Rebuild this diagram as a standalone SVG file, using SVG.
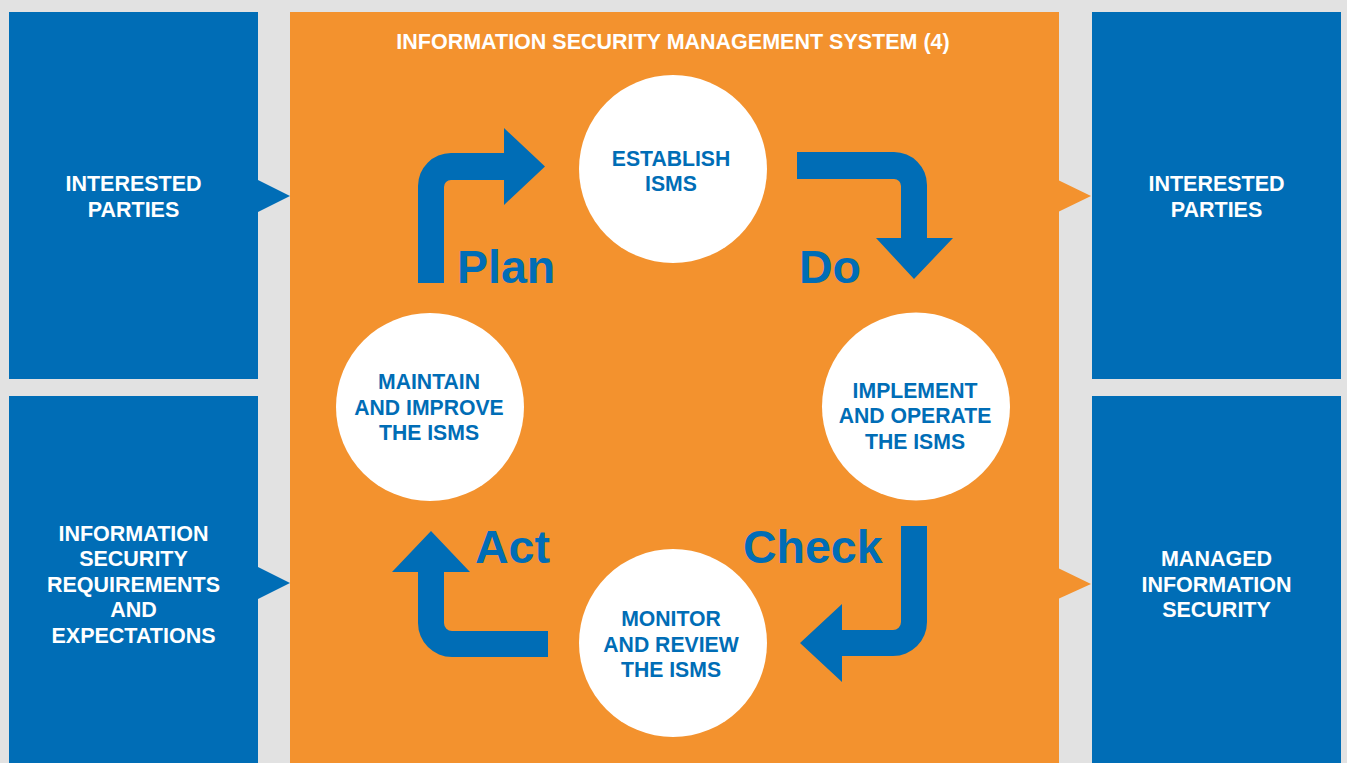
<svg xmlns="http://www.w3.org/2000/svg" width="1347" height="763" viewBox="0 0 1347 763">
  <style>
    .blue { fill: #006db6; }
    .orange { fill: #f3922e; }
    .circ { fill: #ffffff; }
    .t { font-family: "Liberation Sans", Arial, sans-serif; font-weight: bold; text-anchor: middle; }
    .wt { fill: #ffffff; font-size: 21.5px; }
    .bt { fill: #006db6; font-size: 21.2px; }
    .big { font-family: "Liberation Sans", Arial, sans-serif; font-weight: bold; fill: #006db6; font-size: 46.5px; }
  </style>
  <rect x="0" y="0" width="1347" height="763" fill="#e2e2e2"/>

  <g id="isms-panel">
    <rect class="orange" x="290" y="12" width="769" height="751"/>
    <text class="t wt" x="673" y="49" font-size="21.7">INFORMATION SECURITY MANAGEMENT SYSTEM (4)</text>
  </g>

  <g id="in-interested-parties">
    <rect class="blue" x="9" y="12" width="249" height="367"/>
    <text class="t wt" x="133.5" y="191">INTERESTED</text>
    <text class="t wt" x="133.5" y="217">PARTIES</text>
  </g>

  <g id="in-requirements">
    <rect class="blue" x="9" y="396" width="249" height="367"/>
    <text class="t wt" x="133.5" y="541">INFORMATION</text>
    <text class="t wt" x="133.5" y="566">SECURITY</text>
    <text class="t wt" x="133.5" y="592">REQUIREMENTS</text>
    <text class="t wt" x="133.5" y="617">AND</text>
    <text class="t wt" x="133.5" y="643">EXPECTATIONS</text>
  </g>

  <g id="out-interested-parties">
    <rect class="blue" x="1092" y="12" width="249" height="367"/>
    <text class="t wt" x="1216.5" y="191">INTERESTED</text>
    <text class="t wt" x="1216.5" y="217">PARTIES</text>
  </g>

  <g id="out-managed-security">
    <rect class="blue" x="1092" y="396" width="249" height="367"/>
    <text class="t wt" x="1216.5" y="566">MANAGED</text>
    <text class="t wt" x="1216.5" y="592">INFORMATION</text>
    <text class="t wt" x="1216.5" y="617">SECURITY</text>
  </g>

  <g id="establish">
    <circle class="circ" cx="673" cy="169" r="94"/>
    <text class="t bt" x="671" y="166">ESTABLISH</text>
    <text class="t bt" x="671" y="191">ISMS</text>
  </g>

  <g id="implement">
    <circle class="circ" cx="916" cy="406.5" r="94"/>
    <text class="t bt" x="915" y="398">IMPLEMENT</text>
    <text class="t bt" x="915" y="423">AND OPERATE</text>
    <text class="t bt" x="915" y="449">THE ISMS</text>
  </g>

  <g id="monitor">
    <circle class="circ" cx="673" cy="643" r="94"/>
    <text class="t bt" x="671" y="626">MONITOR</text>
    <text class="t bt" x="671" y="652">AND REVIEW</text>
    <text class="t bt" x="671" y="677">THE ISMS</text>
  </g>

  <g id="maintain">
    <circle class="circ" cx="430" cy="407" r="94"/>
    <text class="t bt" x="429" y="389">MAINTAIN</text>
    <text class="t bt" x="429" y="415">AND IMPROVE</text>
    <text class="t bt" x="429" y="440">THE ISMS</text>
  </g>

  <g id="connectors">
    <path class="blue" d="M258,180 L290,196 L258,212 Z"/>
    <path class="blue" d="M258,567 L290,583 L258,599 Z"/>
    <path class="orange" d="M1058,180 L1091,196 L1058,212 Z"/>
    <path class="orange" d="M1058,568 L1091,584 L1058,599 Z"/>
    <path class="blue" d="M418,283 L418,186 A33,33 0 0 1 451,153 L504,153 L504,128 L545,166.5 L504,205 L504,180 L451,180 A7,7 0 0 0 444,187 L444,283 Z"/>
    <path class="blue" d="M797,152 L894,152 A33,33 0 0 1 927,185 L927,238 L953,238 L914,279 L876,238 L901,238 L901,186 A7,7 0 0 0 894,179 L797,179 Z"/>
    <path class="blue" d="M901,526 L927,526 L927,622 A34,34 0 0 1 893,656 L842,656 L842,682 L800,643 L842,604 L842,630 L893,630 A8,8 0 0 0 901,622 Z"/>
    <path class="blue" d="M548,631 L548,657 L452,657 A34,34 0 0 1 418,623 L418,572 L392,572 L431,531 L470,572 L444,572 L444,623 A8,8 0 0 0 452,631 Z"/>
  </g>

  <g id="phase-labels">
    <text class="big" x="457" y="283">Plan</text>
    <text class="big" x="799" y="283">Do</text>
    <text class="big" x="475" y="563">Act</text>
    <text class="big" x="743" y="563" font-size="48.5">Check</text>
  </g>
</svg>
